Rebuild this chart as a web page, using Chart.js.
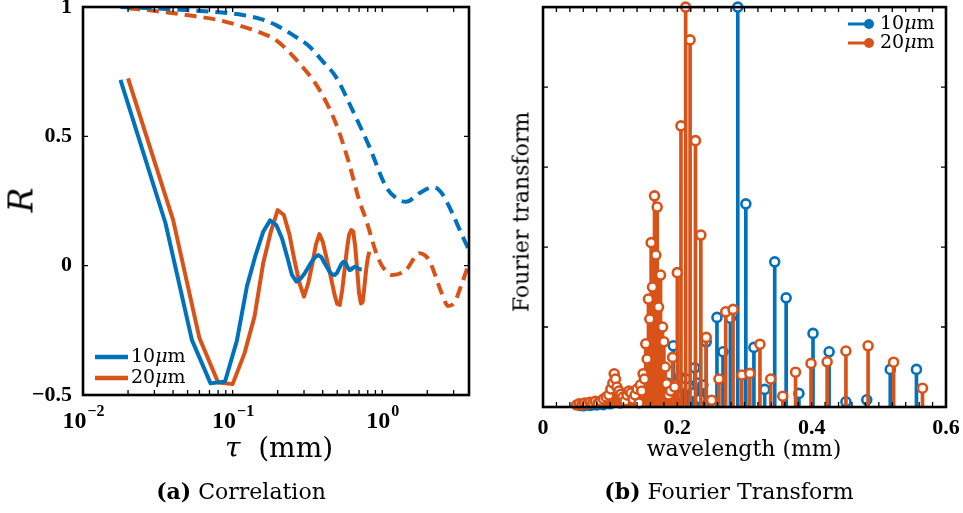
<!DOCTYPE html>
<html>
<head>
<meta charset="utf-8">
<script src="https://cdn.jsdelivr.net/npm/chart.js"></script>
<style>
    body { margin: 0; background: #fff; width: 963px; height: 513px; overflow: hidden; position: relative; font-family: "DejaVu Serif", serif; color: #000 }
    #wa { position: absolute; left: 0; top: 0; width: 480px; height: 440px }
    #wb { position: absolute; left: 480px; top: 0; width: 483px; height: 440px }
    .lbl { position: absolute; white-space: nowrap; transform: translate(-50%, -50%) }
    .rot { transform: translate(-50%, -50%) rotate(-90deg) }
</style>
</head>
<body>
<div id="wa"><canvas id="ca"></canvas></div>
<div id="wb"><canvas id="cb"></canvas></div>

<div class="lbl rot" style="left:21px;top:200px;font-size:33px;font-style:italic">R</div>
<div class="lbl" style="left:279px;top:447px;font-size:28px"><i>τ</i>&nbsp; (mm)</div>
<div class="lbl" style="left:241px;top:491px;font-size:22px"><b>(a)</b> Correlation</div>

<div class="lbl rot" style="left:521px;top:212px;font-size:22px">Fourier transform</div>
<div class="lbl" style="left:744px;top:448px;font-size:22px">wavelength (mm)</div>
<div class="lbl" style="left:729px;top:491px;font-size:22px"><b>(b)</b> Fourier Transform</div>

<script>
    const blue = '#0072BD'
    const orange = '#D95319'
    const seriesSizes = ['10', '20']

    // (a) correlation, solid = R, sampled every 0.0178 / 0.02 mm
    const tau10 = [0.0178, 0.0356, 0.0534, 0.0712, 0.089, 0.1068, 0.1246, 0.1424, 0.160, 0.178,
        0.1958, 0.2136, 0.2314, 0.2492, 0.267, 0.2848, 0.3026, 0.3204, 0.3382, 0.356,
        0.3738, 0.3916, 0.4094, 0.4272, 0.445, 0.4628, 0.4806, 0.4984, 0.5162, 0.534,
        0.5518, 0.5696, 0.5874, 0.6052, 0.623, 0.6408, 0.6586, 0.6764, 0.6942, 0.712, 0.7298]
    const r10 = [0.718, 0.164, -0.287, -0.455, -0.448, -0.29, -0.08, 0.041, 0.131, 0.175,
        0.157, 0.106, 0.035, -0.036, -0.062, -0.05, -0.03, -0.006, 0.016, 0.033,
        0.041, 0.033, 0.012, -0.006, -0.023, -0.034, -0.036, -0.028, -0.01, 0.007,
        0.015, 0.01, -0.006, -0.017, -0.014, -0.007, -0.004, -0.007, -0.011, -0.014, -0.014]

    const tau20 = [0.02, 0.04, 0.06, 0.08, 0.10, 0.12, 0.14, 0.16, 0.18, 0.20,
        0.22, 0.24, 0.26, 0.28, 0.30, 0.32, 0.34, 0.36, 0.38, 0.40,
        0.42, 0.44, 0.46, 0.48, 0.50, 0.52, 0.54, 0.56, 0.58, 0.60,
        0.62, 0.64, 0.66, 0.68, 0.70, 0.72, 0.74, 0.76, 0.78, 0.80, 0.82]
    const r20 = [0.724, 0.177, -0.28, -0.452, -0.458, -0.339, -0.197, 0.009, 0.131, 0.215,
        0.196, 0.119, 0.016, -0.068, -0.12, -0.068, 0.003, 0.08, 0.122, 0.093,
        0.04, -0.01, -0.062, -0.113, -0.148, -0.152, -0.094, -0.017, 0.061, 0.119,
        0.138, 0.132, 0.073, -0.017, -0.107, -0.146, -0.14, -0.081, -0.017, 0.028, 0.054]

    // (a) dashed curves
    const tauD10 = [0.0178, 0.03, 0.049, 0.08, 0.117, 0.155, 0.195, 0.252, 0.326, 0.4, 0.49, 0.634,
        0.82, 1.06, 1.25, 1.44, 1.77, 2.05, 2.22, 2.5, 2.94, 3.4, 3.8]
    const rD10 = [1.0, 0.995, 0.988, 0.98, 0.969, 0.953, 0.93, 0.892, 0.847, 0.79, 0.73, 0.60,
        0.46, 0.305, 0.26, 0.247, 0.28, 0.30, 0.303, 0.28, 0.203, 0.12, 0.06]
    const tauD20 = [0.02, 0.03, 0.049, 0.08, 0.117, 0.155, 0.195, 0.28, 0.38, 0.49, 0.6, 0.70,
        0.78, 0.95, 1.17, 1.44, 1.77, 2.05, 2.5, 2.76, 3.06, 3.4, 3.8]
    const rD20 = [0.995, 0.985, 0.969, 0.95, 0.924, 0.90, 0.872, 0.782, 0.68, 0.55, 0.396, 0.254,
        0.177, 0.022, -0.036, -0.017, 0.048, 0.022, -0.107, -0.156, -0.139, -0.07, 0.009]

    // (b) fourier transform stems
    const wl10 = [0.055, 0.060, 0.065, 0.070, 0.075, 0.080, 0.085, 0.090, 0.095, 0.100,
        0.105, 0.110, 0.115, 0.120, 0.125, 0.130, 0.135, 0.140, 0.145, 0.150,
        0.155, 0.160, 0.165, 0.170, 0.175, 0.180, 0.185, 0.190, 0.194, 0.200,
        0.204, 0.208, 0.213, 0.218, 0.222, 0.226, 0.230, 0.234, 0.238, 0.243,
        0.250, 0.259, 0.268, 0.279, 0.290, 0.302, 0.314, 0.330, 0.345, 0.362,
        0.381, 0.402, 0.426, 0.451, 0.482, 0.517, 0.556]
    const ft10 = [0.004, 0.003, 0.005, 0.004, 0.006, 0.005, 0.008, 0.006, 0.010, 0.008,
        0.012, 0.015, 0.010, 0.025, 0.018, 0.012, 0.020, 0.015, 0.030, 0.022,
        0.035, 0.028, 0.040, 0.032, 0.045, 0.050, 0.060, 0.040, 0.153, 0.030,
        0.075, 0.055, 0.070, 0.050, 0.035, 0.098, 0.060, 0.020, 0.055, 0.163,
        0.015, 0.224, 0.138, 0.222, 1.0, 0.508, 0.149, 0.044, 0.363, 0.273,
        0.034, 0.184, 0.138, 0.013, 0.018, 0.094, 0.094]

    const wl20 = [0.050, 0.054, 0.058, 0.062, 0.066, 0.070, 0.074, 0.078, 0.082, 0.086,
        0.090, 0.094, 0.098, 0.101, 0.104, 0.106, 0.108, 0.110, 0.113, 0.116,
        0.119, 0.122, 0.125, 0.128, 0.131, 0.134, 0.137, 0.140, 0.143, 0.145,
        0.147, 0.149, 0.151, 0.153, 0.155, 0.157, 0.159, 0.161, 0.163, 0.166,
        0.168, 0.170, 0.172, 0.175, 0.178, 0.180, 0.182, 0.184, 0.187, 0.190,
        0.193, 0.196, 0.200, 0.2054, 0.2124, 0.219, 0.227, 0.235, 0.243, 0.251,
        0.262, 0.272, 0.283, 0.296, 0.308, 0.323, 0.339, 0.357, 0.376, 0.399,
        0.423, 0.451, 0.484, 0.522, 0.565]
    const ft20 = [0.005, 0.008, 0.006, 0.010, 0.008, 0.012, 0.010, 0.014, 0.010, 0.015,
        0.020, 0.025, 0.030, 0.045, 0.060, 0.083, 0.070, 0.050, 0.040, 0.032,
        0.025, 0.015, 0.030, 0.040, 0.035, 0.020, 0.030, 0.045, 0.010, 0.055,
        0.040, 0.083, 0.070, 0.158, 0.120, 0.270, 0.220, 0.411, 0.300, 0.528,
        0.380, 0.500, 0.250, 0.330, 0.200, 0.163, 0.100, 0.058, 0.030, 0.040,
        0.124, 0.050, 0.336, 0.703, 1.0, 0.918, 0.666, 0.430, 0.174, 0.017,
        0.070, 0.238, 0.244, 0.080, 0.084, 0.157, 0.070, 0.027, 0.087, 0.109,
        0.113, 0.140, 0.153, 0.112, 0.047]

    const yTicksA = [-0.5, 0, 0.5, 1]
    const xTicksA = [0.01, 0.1, 1]
    const xLabelsA = [['10', '−2'], ['10', '−1'], ['10', '0']]
    const yTicksB = [0.2, 0.4, 0.6, 0.8]
    const xTicksB = [0, 0.2, 0.4, 0.6]

    const tickFont = { family: 'Liberation Serif', size: 22, weight: 'bold' }

    function pts(xs, ys) {
        return xs.map((x, i) => ({ x, y: ys[i] }))
    }

    // box + inward tick marks, like matlab axes
    const boxTicks = {
        id: 'boxTicks',
        afterDatasetsDraw(chart, args, o) {
            const { ctx, chartArea: a, scales: { x, y } } = chart
            ctx.save()
            ctx.strokeStyle = '#000'
            ctx.lineWidth = 1.3
            ctx.beginPath()
            o.xTicks.forEach((v) => {
                const px = x.getPixelForValue(v)
                ctx.moveTo(px, a.bottom)
                ctx.lineTo(px, a.bottom - o.len)
                ctx.moveTo(px, a.top)
                ctx.lineTo(px, a.top + o.len)
            })
            o.yTicks.forEach((v) => {
                const py = y.getPixelForValue(v)
                ctx.moveTo(a.left, py)
                ctx.lineTo(a.left + o.len, py)
                ctx.moveTo(a.right, py)
                ctx.lineTo(a.right - o.len, py)
            })
            ctx.stroke()
            ctx.lineWidth = 2.6
            ctx.strokeRect(a.left, a.top, a.right - a.left, a.bottom - a.top)
            ctx.restore()
        },
    }

    // legend drawn inside the axes
    const innerLegend = {
        id: 'innerLegend',
        afterDraw(chart, args, o) {
            const ctx = chart.ctx
            ctx.save()
            o.colors.forEach((color, i) => {
                const y = o.y + i * o.gap
                ctx.strokeStyle = color
                ctx.lineWidth = o.lineWidth
                ctx.beginPath()
                ctx.moveTo(o.x, y)
                ctx.lineTo(o.x + o.len, y)
                ctx.stroke()
                if (o.marker) {
                    ctx.fillStyle = color
                    ctx.beginPath()
                    ctx.arc(o.x + o.len, y, 5, 0, Math.PI * 2)
                    ctx.fill()
                }
                let tx = o.x + o.len + o.pad
                ctx.fillStyle = '#000'
                ctx.textBaseline = 'middle'
                ctx.font = o.font
                ctx.fillText(seriesSizes[i], tx, y)
                tx += ctx.measureText(seriesSizes[i]).width
                ctx.font = 'italic ' + o.font
                ctx.fillText('μ', tx, y)
                tx += ctx.measureText('μ').width
                ctx.font = o.font
                ctx.fillText('m', tx, y)
            })
            ctx.restore()
        },
    }

    // 10^n labels with a real raised exponent
    const powerLabels = {
        id: 'powerLabels',
        afterDraw(chart, args, o) {
            const { ctx, scales: { x } } = chart
            ctx.save()
            ctx.fillStyle = '#000'
            ctx.textBaseline = 'alphabetic'
            xTicksA.forEach((v, i) => {
                const [base, exp] = xLabelsA[i]
                ctx.font = 'bold 24px "Liberation Serif"'
                const wb = ctx.measureText(base).width
                ctx.font = 'bold 16px "Liberation Serif"'
                const we = ctx.measureText(exp).width
                let px = x.getPixelForValue(v) - (wb + we) / 2
                ctx.font = 'bold 24px "Liberation Serif"'
                ctx.fillText(base, px, o.base)
                ctx.font = 'bold 16px "Liberation Serif"'
                ctx.fillText(exp, px + wb + 1, o.base - 12)
            })
            ctx.restore()
        },
    }

    const minorLog = []
    for (let d = -2; d <= 0; d++) {
        for (let m = 1; m <= 9; m++) {
            const v = m * Math.pow(10, d)
            if (v < 3.8) minorLog.push(v)
        }
    }

    new Chart(document.getElementById('ca'), {
        type: 'line',
        data: {
            datasets: [
                { data: pts(tau10, r10), borderColor: blue, borderWidth: 4 },
                { data: pts(tau20, r20), borderColor: orange, borderWidth: 4 },
                { data: pts(tauD10, rD10), borderColor: blue, borderWidth: 4, borderDash: [12, 7], cubicInterpolationMode: 'monotone' },
                { data: pts(tauD20, rD20), borderColor: orange, borderWidth: 4, borderDash: [12, 7], cubicInterpolationMode: 'monotone' },
            ],
        },
        options: {
            responsive: true,
            maintainAspectRatio: false,
            animation: false,
            layout: { padding: { left: 0, top: 7, right: 11, bottom: 0 } },
            elements: { point: { radius: 0 }, line: { borderCapStyle: 'butt', borderJoinStyle: 'round' } },
            plugins: {
                legend: { display: false },
                tooltip: { enabled: false },
                boxTicks: { xTicks: minorLog, yTicks: yTicksA, len: 5 },
                innerLegend: { x: 95, y: 357, gap: 21, len: 33, pad: 3, lineWidth: 4.5, font: '19px "DejaVu Serif"', colors: [blue, orange] },
                powerLabels: { base: 428 },
            },
            scales: {
                x: {
                    type: 'logarithmic',
                    min: 0.01,
                    max: 3.8,
                    grid: { display: false },
                    border: { display: false },
                    ticks: { display: false },
                    afterFit(s) { s.height = 45; s.paddingLeft = 0; s.paddingRight = 0 },
                },
                y: {
                    min: -0.5,
                    max: 1,
                    grid: { display: false },
                    border: { display: false },
                    afterBuildTicks(s) { s.ticks = yTicksA.map((v) => ({ value: v })) },
                    ticks: {
                        font: tickFont,
                        color: '#000',
                        padding: 3,
                        callback: (v) => (v < 0 ? '−' + Math.abs(v) : String(v)),
                    },
                    afterFit(s) { s.width = 83; s.paddingTop = 0; s.paddingBottom = 0 },
                },
            },
        },
        plugins: [boxTicks, innerLegend, powerLabels],
    })

    const minorB = []
    for (let i = 0; i <= 30; i++) minorB.push(i * 0.02)

    new Chart(document.getElementById('cb'), {
        type: 'bar',
        data: {
            datasets: [
                { type: 'bar', data: pts(wl10, ft10), backgroundColor: blue, barThickness: 3, grouped: false, order: 4 },
                {
                    type: 'line', data: pts(wl10, ft10), showLine: false, order: 3, clip: false,
                    pointRadius: 4.5, pointBorderWidth: 2.6, pointBorderColor: blue, pointBackgroundColor: '#fff',
                },
                { type: 'bar', data: pts(wl20, ft20), backgroundColor: orange, barThickness: 3, grouped: false, order: 2 },
                {
                    type: 'line', data: pts(wl20, ft20), showLine: false, order: 1, clip: false,
                    pointRadius: 4.5, pointBorderWidth: 2.6, pointBorderColor: orange, pointBackgroundColor: '#fff',
                },
            ],
        },
        options: {
            responsive: true,
            maintainAspectRatio: false,
            animation: false,
            layout: { padding: { left: 0, top: 7, right: 17, bottom: 0 } },
            plugins: {
                legend: { display: false },
                tooltip: { enabled: false },
                boxTicks: { xTicks: minorB, yTicks: yTicksB, len: 5 },
                innerLegend: { x: 368, y: 24, gap: 19, len: 21, pad: 11, lineWidth: 3, font: '19px "DejaVu Serif"', colors: [blue, orange], marker: true },
            },
            scales: {
                x: {
                    type: 'linear',
                    offset: false,
                    min: 0,
                    max: 0.6,
                    grid: { display: false, offset: false },
                    border: { display: false },
                    afterBuildTicks(s) { s.ticks = xTicksB.map((v) => ({ value: v })) },
                    ticks: {
                        font: tickFont,
                        color: '#000',
                        padding: 0,
                        maxRotation: 0,
                        autoSkip: false,
                        callback: (v) => (v === 0 ? '0' : v.toFixed(1)),
                    },
                    afterFit(s) { s.height = 33; s.paddingLeft = 0; s.paddingRight = 0 },
                },
                y: {
                    min: 0,
                    max: 1,
                    grid: { display: false },
                    border: { display: false },
                    ticks: { display: false },
                    afterFit(s) { s.width = 63; s.paddingTop = 0; s.paddingBottom = 0 },
                },
            },
        },
        plugins: [boxTicks, innerLegend],
    })
</script>
</body>
</html>
